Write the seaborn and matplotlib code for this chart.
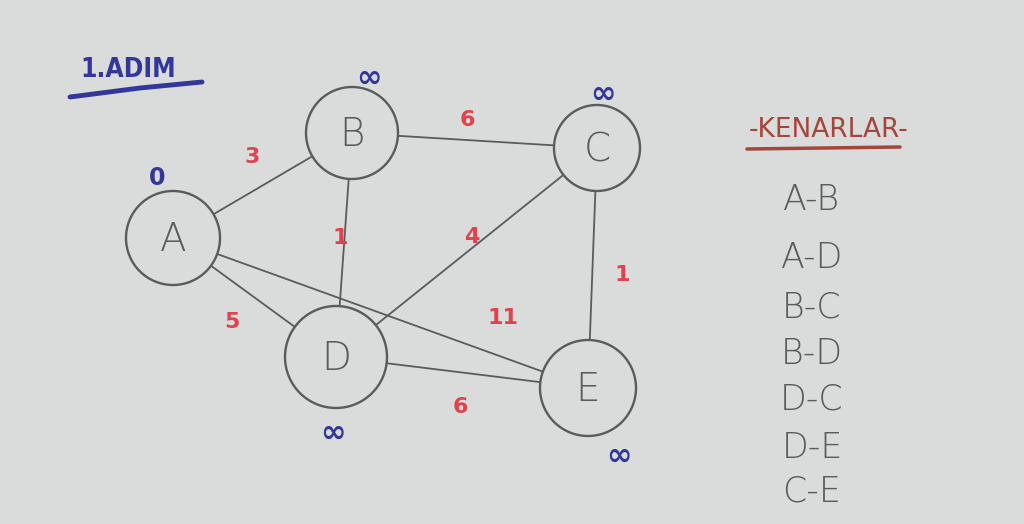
import matplotlib
matplotlib.use('Agg')
import matplotlib.pyplot as plt
from matplotlib.patches import Circle
import pandas as pd
import seaborn as sns

# nodes of the graph (positions read from the sheet, pixel units)
nodes = ['A', 'B', 'C', 'D', 'E']
node_x = [173, 352, 597, 336, 588]
node_y = [238, 133, 148, 357, 388]
node_r = [47, 46, 43, 51, 48]

# starting distances written next to each node
dist_labels = ['0', '∞', '∞', '∞', '∞']
dist_x = [157, 369, 603, 333, 619]
dist_y = [178, 78, 94, 433, 456]

# edges and their weights
edge_from = ['A', 'A', 'A', 'B', 'B', 'D', 'D', 'C']
edge_to = ['B', 'D', 'E', 'C', 'D', 'C', 'E', 'E']
weights = ['3', '5', '11', '6', '1', '4', '6', '1']
weight_x = [252, 232, 503, 467, 340, 472, 460, 622]
weight_y = [157, 322, 318, 120, 238, 237, 407, 275]

# right hand list
list_title = '-KENARLAR-'
edge_list = ['A-B', 'A-D', 'B-C', 'B-D', 'D-C', 'D-E', 'C-E']
list_y = [200, 258, 308, 354, 400, 448, 492]

paper = '#d9dcdb'
pencil = '#585c5c'
red = '#e0434d'
blue = '#34379a'
brown = '#a5453c'

pos = {n: (x, y) for n, x, y in zip(nodes, node_x, node_y)}
rows = []
for i, (a, b) in enumerate(zip(edge_from, edge_to)):
    rows.append({'edge': i, 'x': pos[a][0], 'y': pos[a][1]})
    rows.append({'edge': i, 'x': pos[b][0], 'y': pos[b][1]})
edges = pd.DataFrame(rows)

fig = plt.figure(figsize=(10.24, 5.24), dpi=100, facecolor=paper)
ax = fig.add_axes([0, 0, 1, 1])
ax.set_facecolor(paper)

sns.lineplot(data=edges, x='x', y='y', units='edge', estimator=None, sort=False,
             color=pencil, lw=1.3, ax=ax, zorder=1)

for n, x, y, r in zip(nodes, node_x, node_y, node_r):
    ax.add_patch(Circle((x, y), r, facecolor=paper, edgecolor=pencil, lw=1.7, zorder=2))
    ax.text(x, y + 2, n, ha='center', va='center', fontsize=28, color=pencil,
            fontweight='light', zorder=3)

for s, x, y in zip(dist_labels, dist_x, dist_y):
    ax.text(x, y, s, ha='center', va='center', fontsize=22 if s == '∞' else 17,
            color=blue, fontweight='bold', zorder=3)

for s, x, y in zip(weights, weight_x, weight_y):
    ax.text(x, y, s, ha='center', va='center', fontsize=16, color=red,
            fontweight='bold', zorder=3)

# title
ax.text(128, 70, '1.ADIM', ha='center', va='center', fontsize=19, color=blue,
        fontweight='bold', fontstretch='condensed')
ax.plot([70, 140, 202], [97, 88, 82], color=blue, lw=3.5, solid_capstyle='round')

# list of edges
ax.text(829, 130, list_title, ha='center', va='center', fontsize=19, color=brown)
ax.plot([747, 900], [149, 147], color=brown, lw=2.5, solid_capstyle='round')
for s, y in zip(edge_list, list_y):
    ax.text(812, y, s, ha='center', va='center', fontsize=25, color=pencil,
            fontweight='light')

ax.set_xlim(0, 1024)
ax.set_ylim(524, 0)
ax.set_aspect('auto')
ax.axis('off')

fig.savefig('out.png', dpi=100, facecolor=paper)
